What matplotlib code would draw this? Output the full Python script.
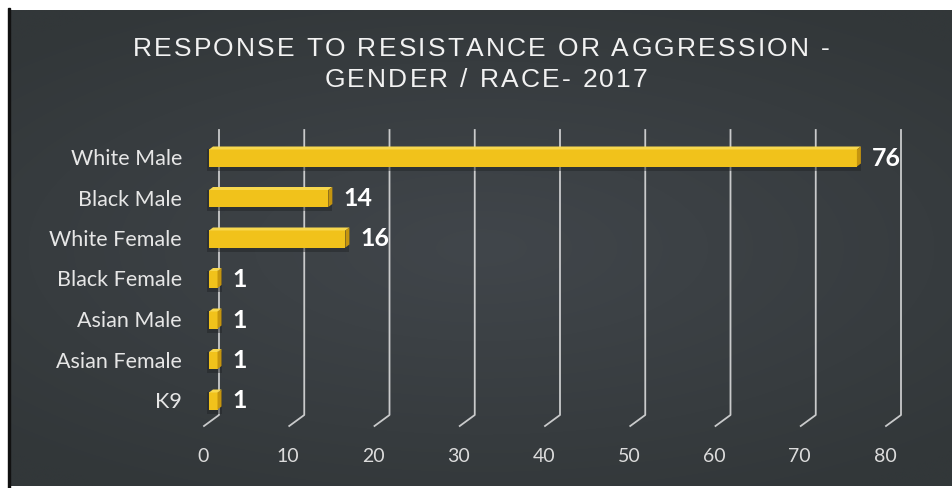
import numpy as np
import matplotlib.pyplot as plt
from matplotlib.patches import Polygon, Rectangle
from matplotlib.transforms import IdentityTransform
from matplotlib.font_manager import FontProperties

# chart data
categories = ['White Male', 'Black Male', 'White Female', 'Black Female',
              'Asian Male', 'Asian Female', 'K9']
values = [76, 14, 16, 1, 1, 1, 1]
xticks = [0, 10, 20, 30, 40, 50, 60, 70, 80]
title_lines = ['RESPONSE TO RESISTANCE OR AGGRESSION -', 'GENDER / RACE- 2017']

W, H = 953, 488
DPI = 100
fig = plt.figure(figsize=(W / DPI, H / DPI), dpi=DPI, facecolor='white')


def px(x, y):
    # image pixel (origin top-left) -> display coords
    return x, H - y


# dark slide background with a soft vignette
bg = fig.add_axes([10 / W, (H - 486) / H, (W - 10) / W, 476 / H])
bg.set_axis_off()
yy, xx = np.mgrid[-1:1:200j, -1:1:400j]
r = np.sqrt((xx * 0.9) ** 2 + (yy * 1.1) ** 2)
base = np.array([0x41, 0x46, 0x4b]) / 255
edge = np.array([0x32, 0x37, 0x39]) / 255
t = np.clip(r / 1.3, 0, 1)[..., None]
img = base * (1 - t) + edge * t
bg.imshow(img, aspect='auto', extent=[0, 1, 0, 1], interpolation='bilinear')
bg.set_xlim(0, 1)
bg.set_ylim(0, 1)
fig.patches.append(Rectangle((8, 0), 2, H - 8, transform=IdentityTransform(),
                             color='#111111', zorder=5))

# main axes: x=0 at px 209, x=80 at px 891; rows 40.5 px apart
row = 40.5
top_c = 158
ax = fig.add_axes([209 / W, (H - (top_c + 6.5 * row)) / H, 682 / W, 7 * row / H])
ax.set_xlim(0, 80)
ax.set_ylim(len(categories) - 0.5, -0.5)
ax.set_axis_off()
ax.patch.set_alpha(0)

fig.canvas.draw()
renderer = fig.canvas.get_renderer()
T = ax.transData

# gridlines on the back wall, bending onto the floor
back_dx = 10
for v in xticks:
    xb = T.transform((v, 0))[0] + back_dx
    pts = [px(0, 130), px(0, 415), px(-15, 426)]
    pts = [(xb + p[0], p[1]) for p in pts]
    fig.lines.append(plt.Line2D([p[0] for p in pts], [p[1] for p in pts],
                                transform=IdentityTransform(), color='#c9cacb',
                                lw=1.3, zorder=2))
    fig.text((xb - 16) / W, (H - 456) / H, str(v), ha='center', va='center',
             fontsize=14, family='Lato', color='#dcdcdc', zorder=6)

# 3D-looking bars
bh = 0.42
ddx, ddy = 4, 3
front_c = '#f1c21b'
top_col = '#f8d84e'
end_col = '#c5950f'
for i, (cat, v) in enumerate(zip(categories, values)):
    x0, yb = T.transform((0, i + bh / 2))
    x1, yt = T.transform((v, i - bh / 2))
    # shadow
    fig.patches.append(Polygon([(x0 - 2, yb - 4), (x1 + ddx, yb - 4), (x1 + ddx, yt), (x0 - 2, yt)],
                               closed=True, transform=IdentityTransform(),
                               color='#1f2224', alpha=0.45, lw=0, zorder=3))
    fig.patches.append(Polygon([(x0, yb), (x1, yb), (x1, yt), (x0, yt)], closed=True,
                               transform=IdentityTransform(), color=front_c, lw=0, zorder=4))
    fig.patches.append(Polygon([(x0, yt), (x1, yt), (x1 + ddx, yt + ddy), (x0 + ddx, yt + ddy)],
                               closed=True, transform=IdentityTransform(),
                               color=top_col, lw=0, zorder=4))
    fig.patches.append(Polygon([(x1, yb), (x1 + ddx, yb + ddy), (x1 + ddx, yt + ddy), (x1, yt)],
                               closed=True, transform=IdentityTransform(),
                               color=end_col, lw=0, zorder=4))
    yc = (yb + yt) / 2
    fig.text((x1 + 15) / W, yc / H, str(v), ha='left', va='center', fontsize=18,
             family='Lato', fontweight='bold', color='white', zorder=6)
    fig.text(182 / W, (H - (top_c + i * row + 1)) / H, cat, ha='right', va='center',
             fontsize=15.5, family='Lato', color='#e6e6e6', zorder=6)

# title with a little letter spacing, placed glyph by glyph
tsize = 19
tprop = FontProperties(family='Liberation Sans', size=tsize)


def width(s):
    return renderer.get_text_width_height_descent(s, tprop, ismath=False)[0]


space_w = width('a a') - width('aa')


def advances(s):
    return [space_w if ch == ' ' else width(ch) for ch in s]


adv1 = advances(title_lines[0])
track = (697 - sum(adv1)) / (len(title_lines[0]) - 1)
for line, base_y, cx in [(title_lines[0], 56, 481), (title_lines[1], 87, 486)]:
    adv = advances(line)
    total = sum(adv) + track * (len(line) - 1)
    x = cx - total / 2
    for ch, a in zip(line, adv):
        if ch != ' ':
            fig.text(x / W, (H - base_y) / H, ch, ha='left', va='baseline',
                     fontproperties=tprop, color='#f2f2f2', zorder=6)
        x += a + track

fig.savefig('out.png', dpi=DPI, facecolor=fig.get_facecolor())
